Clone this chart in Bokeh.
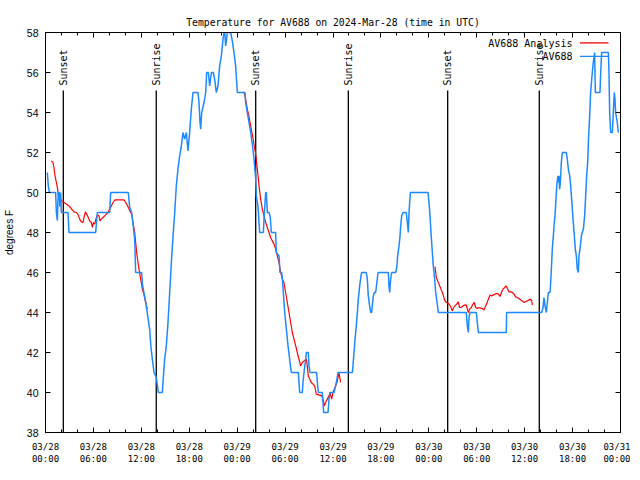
import math
from bokeh.plotting import figure
from bokeh.models import Range1d, FixedTicker, LinearAxis, Label, BoxAnnotation, CustomJSTickFormatter
from bokeh.core.properties import value
from bokeh.embed import file_html
from bokeh.resources import INLINE

# ---- data (hours since 2024-03-28 00:00 UTC, degrees F) ----
obs_hours = [0.23, 0.35, 0.48, 1.27, 1.36, 1.48, 1.55, 1.61, 1.72, 1.80, 1.90, 1.98, 2.82, 2.94, 6.28, 6.49,
             8.04, 8.16, 10.37, 10.54, 10.79, 10.96, 11.17, 11.29, 12.04, 12.13, 12.55, 12.80, 13.04, 13.21,
             13.38, 13.59, 13.88, 14.13, 14.63, 14.75, 14.92, 15.13, 15.34, 15.55, 15.76, 15.97, 16.18, 16.38,
             16.59, 16.80, 17.01, 17.22, 17.43, 17.64, 17.84, 18.05, 18.26, 18.47, 19.10, 19.22, 19.35, 19.43,
             19.56, 19.85, 20.06, 20.18, 20.39, 20.56, 20.77, 21.02, 21.18, 21.39, 21.60, 21.81, 22.02, 22.23,
             22.35, 22.45, 22.56, 22.77, 23.19, 23.39, 23.60, 23.81, 24.02, 24.98, 25.06, 25.27, 25.48, 25.69,
             25.90, 26.07, 26.19, 26.32, 26.40, 26.61, 26.73, 26.82, 27.28, 27.36, 27.57, 27.65, 27.78, 27.99,
             28.15, 28.28, 28.82, 28.90, 29.24, 29.36, 29.57, 29.66, 29.78, 29.95, 30.16, 30.37, 30.57, 30.78,
             31.66, 31.74, 31.83, 32.16, 32.24, 32.37, 32.58, 32.66, 32.91, 32.99, 33.12, 33.95, 34.04, 34.16,
             34.66, 34.75, 34.83, 35.38, 35.50, 35.63, 36.13, 36.42, 36.63, 38.42, 38.50, 38.63, 38.76, 38.92,
             39.05, 39.17, 39.34, 39.51, 39.59, 40.17, 40.30, 40.42, 40.59, 40.72, 40.84, 40.92, 41.05, 41.17,
             41.34, 41.47, 41.64, 42.93, 43.01, 43.10, 43.22, 43.35, 43.85, 43.98, 44.10, 44.27, 44.39, 44.48,
             44.60, 44.77, 45.18, 45.31, 45.43, 45.52, 45.60, 45.69, 47.90, 48.02, 48.15, 48.27, 48.44, 48.56,
             48.73, 48.86, 48.98, 49.11, 49.19, 52.69, 52.82, 52.95, 53.03, 53.16, 53.95, 54.07, 54.20, 57.70,
             57.74, 62.13, 62.30, 62.42, 62.55, 62.71, 62.84, 62.96, 63.17, 63.26, 63.38, 63.46, 63.59, 63.71,
             63.80, 63.92, 64.05, 64.17, 64.26, 64.30, 64.38, 64.47, 64.59, 64.72, 65.22, 65.34, 65.47, 65.64,
             65.76, 65.97, 66.09, 66.22, 66.34, 66.47, 66.59, 66.72, 66.80, 66.93, 67.10, 67.22, 67.35, 67.51,
             67.64, 67.76, 67.89, 68.01, 68.14, 68.26, 68.47, 68.59, 68.76, 68.85, 69.43, 69.52, 69.64, 70.48,
             70.56, 70.64, 70.77, 70.98, 71.10, 71.22, 71.31, 71.39, 71.60, 71.72]
obs_temp = [51.0, 50.33, 50.0, 50.0, 49.0, 48.6, 49.5, 50.0, 50.0, 49.3, 50.0, 49.0, 49.0, 48.0, 48.0, 49.0,
            49.0, 50.0, 50.0, 49.25, 49.0, 48.42, 47.67, 46.0, 46.0, 45.42, 44.5, 43.83, 43.17, 42.25,
            41.67, 41.0, 40.75, 40.0, 40.0, 40.75, 41.67, 42.33, 43.5, 45.0, 46.5, 47.83, 49.0, 50.33,
            51.17, 51.83, 52.33, 53.0, 52.67, 53.0, 52.08, 53.0, 54.17, 55.0, 55.0, 54.5, 53.5, 53.17,
            54.0, 54.5, 55.0, 56.0, 56.0, 55.33, 56.0, 56.0, 55.67, 55.0, 55.33, 56.33, 56.83, 57.67,
            58.0, 58.0, 57.33, 58.0, 58.0, 57.58, 57.0, 56.33, 55.0, 55.0, 54.5, 54.0, 53.5, 53.0,
            52.4, 51.83, 51.33, 50.67, 49.83, 49.33, 48.5, 48.0, 48.0, 48.67, 50.0, 50.0, 49.0, 49.0,
            48.75, 48.0, 48.0, 47.0, 46.83, 46.0, 46.0, 45.67, 45.0, 44.0, 43.17, 42.33, 41.67, 41.0,
            41.0, 40.5, 40.0, 40.0, 40.5, 41.0, 41.67, 42.0, 42.0, 41.33, 41.0, 41.0, 40.5, 40.0,
            40.0, 39.5, 39.0, 39.0, 39.67, 40.0, 40.0, 40.5, 41.0, 41.0, 41.33, 42.0, 42.67, 43.33,
            44.0, 44.67, 45.33, 45.83, 46.0, 46.0, 45.67, 44.83, 44.33, 44.0, 44.0, 44.33, 44.83, 45.0,
            45.0, 45.42, 46.0, 46.0, 45.33, 45.0, 45.67, 46.0, 46.0, 46.25, 46.83, 47.33, 47.83, 48.33,
            48.83, 49.0, 49.0, 48.5, 48.0, 49.0, 49.5, 50.0, 50.0, 49.5, 48.83, 48.0, 47.0, 46.33,
            45.67, 45.0, 44.67, 44.25, 44.0, 44.0, 43.33, 43.0, 43.75, 44.0, 44.0, 43.5, 43.0, 43.0,
            44.0, 44.0, 44.25, 44.75, 44.33, 44.0, 44.5, 45.0, 45.0, 45.5, 46.5, 47.17, 47.83, 48.5,
            48.83, 49.67, 50.5, 50.83, 50.5, 50.83, 50.17, 50.5, 51.5, 52.0, 52.0, 51.67, 51.17, 50.83,
            50.33, 49.17, 48.5, 47.83, 47.17, 46.83, 46.17, 46.0, 46.83, 47.17, 47.83, 48.0, 48.17, 48.83,
            49.83, 50.83, 51.5, 52.83, 53.83, 55.0, 56.0, 56.5, 57.0, 55.0, 55.0, 56.0, 57.0, 57.0,
            56.0, 54.0, 53.0, 53.0, 54.0, 55.0, 54.67, 54.0, 53.5, 53.0]

nan = float("nan")
ana_hours = [0.73, 0.94, 1.06, 1.19, 1.36, 1.52, 1.61, 1.77, 2.02, 2.32, 2.61, 2.94, 3.28, 3.57, 3.86, 4.11,
             4.28, 4.49, 4.70, 4.82, 4.99, 5.16, 5.36, 5.53, 5.74, 5.86, 5.99, 6.16, 6.37, 6.49, 6.70, 6.82,
             6.99, 7.20, 7.41, 7.62, 7.83, 8.04, 8.24, 8.45, 8.70, 9.83, 9.96, 10.16, 10.37, 10.58, 10.79,
             10.96, 11.17, 11.29, 11.42, 11.58, 11.71, 11.92, 12.13, 12.33, 12.55, 12.75,
             nan,
             24.86, 25.06, 25.27, 25.48, 25.69, 25.90, 26.11, 26.32, 26.53, 26.73, 26.94, 27.15, 27.36, 27.57,
             27.78, 27.99, 28.19, 28.40, 28.61, 28.82, 29.03, 29.24, 29.45, 29.66, 29.86, 30.07, 30.28, 30.49,
             30.70, 30.91, 31.12, 31.33, 31.53, 31.74, 31.95, 32.16, 32.37, 32.66, 32.78, 32.91, 33.08, 33.29,
             33.50, 33.70, 33.91, 34.33, 34.58, 34.75, 34.91, 35.08, 35.29, 35.50, 35.63, 35.83, 36.00, 36.17,
             36.33, 36.50, 36.67, 36.75, 36.88, 36.96,
             nan,
             48.77, 48.94, 49.11, 49.27, 49.44, 49.61, 49.77, 49.94, 50.11, 50.32, 50.53, 50.73, 50.94, 51.11,
             51.27, 51.48, 51.69, 51.86, 52.07, 52.28, 52.49, 52.69, 52.82, 52.95, 53.11, 53.32, 53.53, 53.70,
             53.86, 54.07, 54.28, 54.49, 54.70, 54.91, 55.12, 55.33, 55.54, 55.66, 55.87, 56.04, 56.29, 56.50,
             56.71, 56.92, 57.09, 57.29, 57.50, 57.70, 57.87, 58.04, 58.25, 58.46, 58.67, 58.87, 59.08, 59.29,
             59.50, 59.71, 59.92, 60.13, 60.34, 60.55, 60.75, 60.88, 60.96]
ana_temp = [51.58, 51.5, 51.25, 50.83, 50.5, 50.17, 49.83, 49.75, 49.58, 49.5, 49.42, 49.33, 49.17, 49.03, 49.0, 48.87,
            48.67, 48.53, 48.5, 48.75, 49.03, 48.92, 48.75, 48.58, 48.5, 48.25, 48.5, 48.42, 48.75, 48.87, 48.83, 48.58,
            48.67, 48.75, 48.83, 48.92, 49.0, 49.17, 49.33, 49.5, 49.63, 49.63, 49.55, 49.42, 49.25, 49.08, 48.92,
            48.5, 48.0, 47.5, 47.0, 46.5, 46.17, 45.67, 45.17, 44.9, 44.5, 44.17,
            nan,
            55.03, 54.67, 54.17, 53.8, 53.33, 52.9, 52.4, 51.92, 51.17, 50.33, 49.67, 49.17, 48.83, 48.5,
            48.25, 48.0, 47.75, 47.58, 47.42, 47.17, 46.83, 46.5, 46.0, 45.67, 45.5, 45.0, 44.5, 44.0,
            43.5, 43.0, 42.67, 42.33, 42.0, 41.67, 41.33, 41.5, 41.58, 41.67, 41.33, 40.83, 40.67, 40.5,
            40.42, 40.33, 39.92, 39.87, 39.83, 39.67, 39.33, 39.5, 39.67, 39.83, 40.0, 39.67, 40.0, 40.17,
            40.33, 40.5, 40.83, 41.0, 40.67, 40.5,
            nan,
            46.3, 45.75, 45.58, 45.42, 45.25, 45.08, 44.92, 44.67, 44.53, 44.47, 44.42, 44.3, 44.08, 44.25,
            44.33, 44.42, 44.53, 44.25, 44.25, 44.33, 44.37, 44.38, 44.17, 44.0, 44.17, 44.25, 44.42, 44.5,
            44.25, 44.2, 44.25, 44.22, 44.2, 44.12, 44.33, 44.53, 44.75, 44.87, 44.83, 44.87, 44.92, 44.95,
            44.92, 44.8, 45.0, 45.17, 45.25, 45.33, 45.17, 45.03, 45.03, 45.0, 44.92, 44.78, 44.75, 44.7,
            44.63, 44.58, 44.5, 44.55, 44.58, 44.63, 44.67, 44.58, 44.37]

sunset_hours = [2.23, 26.32, 50.36]
sunrise_hours = [13.87, 37.92, 61.83]
sun_line_top = 55.1
sun_label_y = 55.35

x_ticks = [0, 6, 12, 18, 24, 30, 36, 42, 48, 54, 60, 66, 72]
x_tick_labels = ["03/28\n00:00", "03/28\n06:00", "03/28\n12:00", "03/28\n18:00", "03/29\n00:00",
                 "03/29\n06:00", "03/29\n12:00", "03/29\n18:00", "03/30\n00:00", "03/30\n06:00",
                 "03/30\n12:00", "03/30\n18:00", "03/31\n00:00"]
x_minor = list(range(0, 73, 2))
y_ticks = [38, 40, 42, 44, 46, 48, 50, 52, 54, 56, 58]

MONO = "DejaVu Sans Mono"
SANS = "Liberation Sans"

p = figure(frame_width=575, frame_height=400, output_backend="svg", toolbar_location=None,
           x_range=Range1d(0, 72), y_range=Range1d(38, 58),
           min_border_left=38, min_border_right=10, min_border_top=32, min_border_bottom=32,
           background_fill_color="white", border_fill_color="white")
p.grid.visible = False
p.outline_line_color = "black"
p.outline_line_width = 1

p.title.text = "Temperature for AV688 on 2024-Mar-28 (time in UTC)"
p.title.align = "center"
p.title.text_font = MONO
p.title.text_font_size = "9.75px"
p.title.text_font_style = "normal"
p.title.text_color = "black"

def style_axis(ax, minor=True):
    ax.axis_line_color = "black"
    ax.major_tick_line_color = "black"
    ax.major_tick_in = 5
    ax.major_tick_out = 0
    ax.minor_tick_line_color = "black" if minor else None
    ax.minor_tick_in = 3
    ax.minor_tick_out = 0
    ax.major_label_text_color = "black"

xax = p.xaxis[0]
xax.ticker = FixedTicker(ticks=x_ticks, minor_ticks=x_minor)
xax.major_label_overrides = {t: lab for t, lab in zip(x_ticks, x_tick_labels)}
xax.major_label_text_font = MONO
xax.major_label_text_font_size = "9px"
xax.major_label_standoff = 9
style_axis(xax)

yax = p.yaxis[0]
yax.ticker = FixedTicker(ticks=y_ticks, minor_ticks=[])
yax.major_label_text_font = SANS
yax.major_label_text_font_size = "10.5px"
yax.major_label_standoff = 7
yax.axis_label = "degrees F"
yax.axis_label_text_font = SANS
yax.axis_label_text_font_size = "10px"
yax.axis_label_text_font_style = "normal"
yax.axis_label_text_color = "black"
yax.axis_label_standoff = 9
style_axis(yax, minor=False)

blank = CustomJSTickFormatter(code="return ''")
top = LinearAxis(ticker=FixedTicker(ticks=x_ticks, minor_ticks=x_minor), formatter=blank,
                 major_label_standoff=0)
style_axis(top)
p.add_layout(top, "above")
right = LinearAxis(ticker=FixedTicker(ticks=y_ticks, minor_ticks=[]), formatter=blank,
                   major_label_standoff=0)
style_axis(right, minor=False)
p.add_layout(right, "right")

# sunrise / sunset markers
sun_x = sunset_hours + sunrise_hours
sun_txt = ["Sunset"] * len(sunset_hours) + ["Sunrise"] * len(sunrise_hours)
p.segment(x0=sun_x, y0=[38] * len(sun_x), x1=sun_x, y1=[sun_line_top] * len(sun_x),
          line_color="black", line_width=1.3)
p.text(x=sun_x, y=[sun_label_y] * len(sun_x), text=sun_txt, angle=math.pi / 2,
       text_align="left", text_baseline="middle", text_font=value(MONO), text_font_size="10px",
       text_color="black")

# series
p.line(ana_hours, ana_temp, line_color="#ff0000", line_width=1.2)
p.line(obs_hours, obs_temp, line_color="#1e88ff", line_width=1.5)

# legend (text left of the line sample, as in the reference)
for i, (lab, col) in enumerate([("AV688 Analysis", "#ff0000"), ("AV688", "#1e88ff")]):
    p.add_layout(Label(x=527, y=389.5 - 13.5 * i, x_units="screen", y_units="screen", text=lab,
                       text_align="right", text_baseline="middle", text_font=MONO,
                       text_font_size="10px", text_color="black"))
    p.add_layout(BoxAnnotation(left=534.5, right=563, bottom=389 - 13.5 * i, top=390.3 - 13.5 * i,
                               left_units="screen", right_units="screen", bottom_units="screen",
                               top_units="screen", fill_color=col, fill_alpha=1.0, line_color=None))

open("out.html", "w").write(file_html(p, INLINE))
